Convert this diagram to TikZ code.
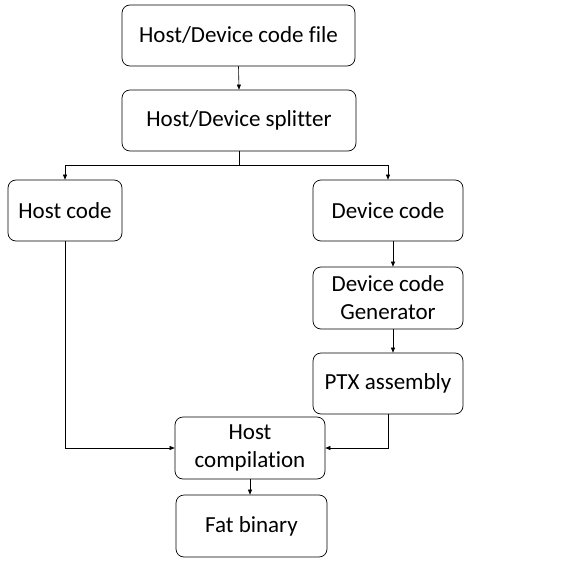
\documentclass[tikz,border=0pt]{standalone}
\usepackage{fontspec}
\setmainfont[Ligatures=NoCommon]{Carlito}
\usetikzlibrary{arrows.meta}
\begin{document}
\begin{tikzpicture}[x=1pt,y=-1pt,
  box/.style={draw, rounded corners=8pt, line width=0.7pt, align=center, font=\fontsize{23}{28}\selectfont, inner sep=0pt},
  conn/.style={line width=0.6pt, -{Triangle[length=5pt,width=4pt]}}]
\useasboundingbox (0,0) rectangle (565,567);
\node[box, minimum width=233pt, minimum height=61pt] (file) at (238.5,35.5) {Host/Device code file};
\node[box, minimum width=234pt, minimum height=61pt] (split) at (239,120.5) {Host/Device splitter};
\node[box, minimum width=114pt, minimum height=61pt] (host) at (65,210.5) {Host code};
\node[box, minimum width=150pt, minimum height=61pt] (dev) at (388,210.5) {Device code};
\node[box, minimum width=150pt, minimum height=62pt] (gen) at (388,298) {Device code\\Generator};
\node[box, minimum width=150pt, minimum height=61pt] (ptx) at (388,383.5) {PTX assembly};
\node[box, minimum width=150pt, minimum height=62pt] (hc) at (250,448) {Host\\compilation};
\node[box, minimum width=151pt, minimum height=62pt] (fat) at (251.5,526) {Fat binary};
\coordinate (j) at (239,165);
\draw[conn] (file.south) -- (split.north);
\draw[line width=0.6pt] (split.south) -- (j);
\draw[conn] (j) -| (host.north);
\draw[conn] (j) -| (dev.north);
\draw[conn] ([xshift=5pt]dev.south) -- ([xshift=5pt]gen.north);
\draw[conn] ([xshift=5pt]gen.south) -- ([xshift=5pt]ptx.north);
\draw[conn] (host.south) |- (hc.west);
\draw[conn] (ptx.south) |- (hc.east);
\draw[conn] (hc.south) -- (hc.south |- fat.north);
\end{tikzpicture}
\end{document}
